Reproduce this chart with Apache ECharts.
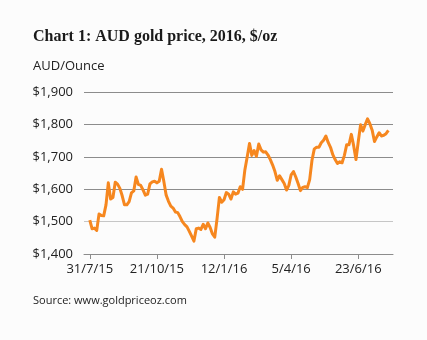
<!DOCTYPE html>
<html>
<head>
<meta charset="utf-8">
<script src="https://cdn.jsdelivr.net/npm/echarts@6/dist/echarts.min.js"></script>
<style>
  html, body { margin: 0; padding: 0; background: #fcfcfc; }
  #chart { width: 427px; height: 340px; }
</style>
</head>
<body>
<div id="chart"></div>
<script>
// AUD gold price, one reading every second trading day from 31/7/15
var stepDays = 2;
var prices = [
  1505, 1478, 1480, 1473, 1524, 1519, 1518, 1552, 1620, 1570,
  1575, 1622, 1616, 1603, 1580, 1552, 1552, 1562, 1589, 1595,
  1638, 1615, 1612, 1598, 1582, 1585, 1617, 1623, 1625, 1620,
  1625, 1662, 1624, 1582, 1563, 1548, 1542, 1530, 1528, 1515,
  1500, 1491, 1484, 1470, 1455, 1440, 1478, 1480, 1476, 1492,
  1478, 1496, 1482, 1462, 1452, 1510, 1575, 1560, 1568, 1590,
  1585, 1570, 1592, 1585, 1588, 1608, 1600, 1660, 1700, 1742,
  1705, 1720, 1702, 1740, 1722, 1715, 1716, 1706, 1692, 1675,
  1655, 1628, 1642, 1630, 1618, 1598, 1612, 1645, 1655, 1638,
  1618, 1596, 1606, 1608, 1605, 1630, 1690, 1725, 1730, 1730,
  1744, 1752, 1765, 1745, 1730, 1707, 1692, 1680, 1685, 1682,
  1705, 1738, 1738, 1770, 1735, 1692, 1748, 1800, 1780, 1800,
  1818, 1803, 1783, 1748, 1762, 1775, 1765, 1767, 1772, 1782
];

// Date labels and the trading day each one falls on
var tickLabels = ['31/7/15', '21/10/15', '12/1/16', '5/4/16', '23/6/16'];
var tickDays = [0, 58, 116, 174, 232];

var yTicks = [1400, 1500, 1600, 1700, 1800, 1900];

var seriesData = prices.map(function (v, i) { return [i * stepDays, v]; });

var sans = 'Open Sans';
var chart = echarts.init(document.getElementById('chart'), null, { renderer: 'canvas' });

chart.setOption({
  backgroundColor: '#fcfcfc',
  animation: false,
  title: [
    {
      text: 'Chart 1: AUD gold price, 2016, $/oz',
      left: 33, top: 29, padding: 0,
      textStyle: { fontFamily: 'Liberation Serif', fontWeight: 'bold', fontSize: 16, color: '#1a1a1a' }
    },
    {
      text: 'AUD/Ounce',
      left: 33, top: 60, padding: 0,
      textStyle: { fontFamily: sans, fontWeight: 'normal', fontSize: 13, color: '#222' }
    },
    {
      text: 'Source: www.goldpriceoz.com',
      left: 33, top: 295, padding: 0,
      textStyle: { fontFamily: sans, fontWeight: 'normal', fontSize: 11, color: '#222' }
    }
  ],
  grid: { left: 84, right: 34, top: 92.3, bottom: 86, containLabel: false },
  xAxis: {
    type: 'value',
    min: -5,
    max: 262,
    splitLine: { show: false },
    axisLine: { show: true, lineStyle: { color: '#8c8c8c', width: 1 } },
    axisTick: {
      show: true, length: 5, customValues: tickDays,
      lineStyle: { color: '#8c8c8c', width: 1 }
    },
    axisLabel: {
      customValues: tickDays,
      margin: 9,
      fontFamily: sans, fontSize: 13, color: '#222',
      formatter: function (v) {
        var k = tickDays.indexOf(v);
        return k >= 0 ? tickLabels[k] : '';
      }
    }
  },
  yAxis: {
    type: 'value',
    min: yTicks[0],
    max: yTicks[yTicks.length - 1],
    interval: 100,
    axisLine: { show: false },
    axisTick: { show: false },
    axisLabel: {
      margin: 11,
      fontFamily: sans, fontSize: 13, color: '#222',
      formatter: function (v) { return '$' + v.toLocaleString('en-US'); }
    },
    splitLine: {
      show: true,
      lineStyle: {
        color: ['#8c8c8c', '#c6c6c6', '#8c8c8c', '#8c8c8c', '#8c8c8c', '#8c8c8c'],
        width: 1
      }
    }
  },
  series: [{
    type: 'line',
    data: seriesData,
    showSymbol: false,
    smooth: false,
    lineStyle: { color: '#f6871f', width: 3, join: 'round' },
    z: 3
  }]
});
</script>
</body>
</html>
